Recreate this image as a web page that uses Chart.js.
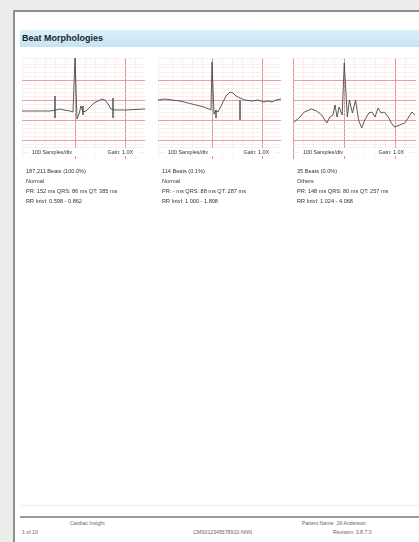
<!DOCTYPE html>
<html>
<head>
<meta charset="utf-8">
<script src="https://cdn.jsdelivr.net/npm/chart.js@4"></script>
<style>
  html, body { margin: 0; padding: 0; }
  body { width: 419px; height: 542px; background: #eceeec; position: relative; overflow: hidden;
         font-family: "Liberation Sans", Arial, sans-serif; }
  .page { position: absolute; left: 13px; top: 10px; width: 420px; height: 540px; background: #fff;
          border-left: 2px solid #8f8f8f; border-top: 2px solid #8f8f8f; }
  .band { position: absolute; left: 20px; top: 30px; width: 399px; height: 17px;
          background: linear-gradient(#dcf0fa, #c4e4f5); }
  .band span { position: absolute; left: 2px; top: 3px; font-size: 9px; font-weight: bold; color: #222; }
  .panel { position: absolute; top: 58px; width: 123px; height: 101px; }
  .bar { position: absolute; top: 148px; height: 8px; background: #fff; font-size: 5.4px; color: #333; line-height: 8px; white-space: nowrap; }
  .info { position: absolute; font-size: 5.6px; color: #333; white-space: nowrap; line-height: 6px; }
  .foot { position: absolute; font-size: 5.2px; color: #666; white-space: nowrap; }
</style>
</head>
<body>
<div class="page"></div>
<div class="band"><span>Beat Morphologies</span></div>

<div class="panel" style="left:22px"><canvas id="ecg1"></canvas></div>
<div class="panel" style="left:158px"><canvas id="ecg2"></canvas></div>
<div class="panel" style="left:293px"><canvas id="ecg3"></canvas></div>

<div id="labels"></div>

<div style="position:absolute;left:20px;top:505px;width:399px;height:1px;background:#eeeeee"></div>
<div style="position:absolute;left:20px;top:516px;width:399px;height:1.5px;background:#9a9a9a"></div>
<div class="foot" style="left:70px;top:520px">Cardiac Insight</div>
<div class="foot" style="left:302px;top:520px">Patient Name: Jill Anderson</div>
<div class="foot" style="left:22px;top:529px">1 of 10</div>
<div class="foot" style="left:193px;top:529px">CMS012345678910-NNN</div>
<div class="foot" style="left:333px;top:529px">Revision: 3.8.7.0</div>

<script>
// time in ms relative to the R peak, amplitude in mV
const p1Time = [-212, -100, -76, -60, -44, -20, -8, 0, 8, 16, 24, 32, 44, 60, 76, 92, 108, 120, 132, 144, 160, 200, 280];
const p1Volt = [-0.275, -0.275, -0.25, -0.225, -0.25, -0.275, -0.3, 1.05, -0.475, -0.35, -0.15, -0.3, -0.275, -0.175, -0.075, -0.025, 0.025, 0, -0.1, -0.225, -0.25, -0.25, -0.225];

const p2Time = [-216, -188, -160, -128, -96, -64, -32, -12, -4, 0, 8, 16, 24, 40, 56, 72, 84, 96, 112, 132, 160, 184, 208, 224, 240, 256, 276];
const p2Volt = [0, 0.025, 0, -0.025, -0.075, -0.125, -0.175, -0.225, -0.25, 0.95, -0.35, -0.25, -0.3, -0.1, 0.1, 0.2, 0.175, 0.1, 0.05, 0, -0.025, 0, -0.05, -0.025, -0.05, 0, 0.025];

const p3Time = [-196, -176, -156, -128, -108, -88, -68, -56, -44, -36, -28, -20, -8, 0, 12, 20, 32, 44, 56, 68, 80, 96, 108, 120, 132, 144, 156, 172, 184, 196, 216, 236, 252, 264, 276];
const p3Volt = [-0.55, -0.45, -0.3, -0.225, -0.275, -0.375, -0.575, -0.425, -0.375, -0.125, -0.425, -0.175, -0.375, 0.925, -0.425, 0, -0.325, 0, -0.5, -0.7, -0.5, -0.325, -0.3, -0.425, -0.2, -0.325, -0.3, -0.425, -0.575, -0.675, -0.625, -0.575, -0.425, -0.3, -0.375];

// fiducial markers: [time, top mV, bottom mV]
const p1Marks = [[-80, 0.1, -0.45], [32, -0.15, -0.375], [152, 0.05, -0.45]];
const p2Marks = [[16, -0.25, -0.45], [112, 0.0, -0.5]];
const p3Marks = [];

const panelRanges = [[-212, 280], [-216, 276], [-200, 280]];

const beatLines = [
  ['187,211 Beats (100.0%)', 'Normal', 'PR: 152 ms   QRS: 86 ms   QT: 385 ms', 'RR Intvl: 0.598 - 0.862'],
  ['114 Beats (0.1%)', 'Normal', 'PR: - ms   QRS: 88 ms   QT: 287 ms', 'RR Intvl: 1.000 - 1.808'],
  ['35 Beats (0.0%)', 'Others', 'PR: 148 ms   QRS: 80 ms   QT: 257 ms', 'RR Intvl: 1.024 - 4.068']
];
const scaleLabel = '100 Samples/div';
const gainLabel = 'Gain: 1.0X';

const panelLeft = [22, 158, 293];

function markerSets(marks) {
  return marks.map(m => ({
    data: [{ x: m[0], y: m[1] }, { x: m[0], y: m[2] }],
    borderColor: '#5a5a5a',
    borderWidth: 0.8,
    pointRadius: 0
  }));
}

function renderEcg(id, times, volts, marks, range) {
  const trace = times.map((t, i) => ({ x: t, y: volts[i] }));
  new Chart(document.getElementById(id), {
    type: 'line',
    data: {
      datasets: [{
        data: trace,
        borderColor: '#474747',
        borderWidth: 0.9,
        pointRadius: 0,
        tension: 0
      }, ...markerSets(marks)]
    },
    options: {
      responsive: true,
      maintainAspectRatio: false,
      animation: false,
      layout: { padding: 0 },
      plugins: { legend: { display: false }, tooltip: { enabled: false } },
      scales: {
        x: {
          type: 'linear',
          min: range[0],
          max: range[1],
          border: { display: false },
          ticks: { display: false, stepSize: 40 },
          grid: {
            drawTicks: false,
            color: ctx => (ctx.tick.value % 200 === 0 ? '#df9090' : '#f7e0e0'),
            lineWidth: ctx => (ctx.tick.value % 200 === 0 ? 1 : 0.6)
          }
        },
        y: {
          type: 'linear',
          min: -1.475,
          max: 1.05,
          border: { display: false },
          ticks: { display: false, stepSize: 0.1 },
          grid: {
            drawTicks: false,
            color: ctx => (Math.round(ctx.tick.value * 10) % 5 === 0 ? '#e6a0a0' : '#f8e2e2'),
            lineWidth: ctx => (Math.round(ctx.tick.value * 10) % 5 === 0 ? 1 : 0.6)
          }
        }
      }
    }
  });
}

function renderLabels() {
  const box = document.getElementById('labels');
  const tops = [168, 178, 188, 198];
  panelLeft.forEach((left, i) => {
    box.insertAdjacentHTML('beforeend',
      `<div class="bar" style="left:${left + 6}px;width:111px">
         <span style="position:absolute;left:4px">${scaleLabel}</span>
         <span style="position:absolute;right:6px">${gainLabel}</span>
       </div>`);
    beatLines[i].forEach((line, j) => {
      box.insertAdjacentHTML('beforeend',
        `<div class="info" style="left:${left + 4}px;top:${tops[j]}px">${line}</div>`);
    });
  });
}

renderEcg('ecg1', p1Time, p1Volt, p1Marks, panelRanges[0]);
renderEcg('ecg2', p2Time, p2Volt, p2Marks, panelRanges[1]);
renderEcg('ecg3', p3Time, p3Volt, p3Marks, panelRanges[2]);
renderLabels();
</script>
</body>
</html>
